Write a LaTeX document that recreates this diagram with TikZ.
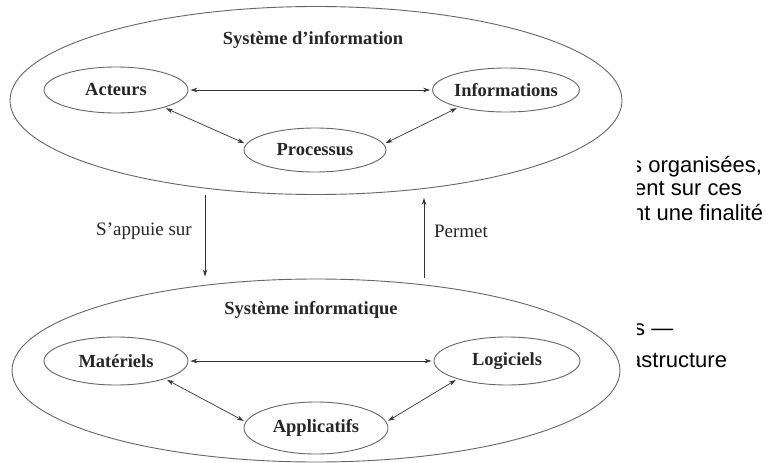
\documentclass[tikz,border=0pt]{standalone}
\usepackage{fontspec}
\setmainfont{Liberation Serif}
\newfontfamily\arialfont{Liberation Sans}
\usetikzlibrary{arrows.meta,shapes.geometric}
\begin{document}
\begin{tikzpicture}[x=1pt,y=-1pt,
  bigell/.style={ellipse, draw=black!60, line width=0.9pt, inner sep=0pt},
  smell/.style={ellipse, draw=black!60, line width=0.9pt, inner sep=0pt,
    font=\fontsize{18.5}{20}\selectfont\bfseries, text=black!85},
  ttl/.style={font=\fontsize{18.5}{20}\selectfont\bfseries, text=black!85, inner sep=0pt},
  lbl/.style={font=\fontsize{19}{21}\selectfont, text=black!85, inner sep=0pt},
  arr/.style={{Stealth[length=7pt,width=4.5pt]}-{Stealth[length=7pt,width=4.5pt]},
    line width=0.7pt, draw=black!80, shorten >=2pt, shorten <=2pt},
  varr/.style={-{Stealth[length=7pt,width=4.5pt]}, line width=0.7pt, draw=black!80},
  frag/.style={font=\arialfont\fontsize{22}{24}\selectfont, anchor=base west, inner sep=0pt, text=black}
]
\useasboundingbox[fill=white] (0,0) rectangle (766,463);

% top system
\node[bigell, minimum width=612pt, minimum height=188pt] (si) at (316,100.5) {};
\node[ttl] (sit) at (313,40) {Système d’information};
\node[smell, minimum width=144pt, minimum height=46pt] (act) at (116,90) {Acteurs};
\node[smell, minimum width=144pt, minimum height=44pt] (info) at (506,90) {Informations};
\node[smell, minimum width=142pt, minimum height=44pt] (proc) at (315,150) {Processus};
\draw[arr] (act) -- (info);
\draw[arr] (act.-20) -- (proc.175);
\draw[arr] (info.-160) -- (proc.5);

% bottom system
\node[bigell, minimum width=608pt, minimum height=183pt] (sinf) at (316,370.5) {};
\node[ttl] (sinft) at (311,310) {Système informatique};
\node[smell, minimum width=144pt, minimum height=48pt] (mat) at (116,361) {Matériels};
\node[smell, minimum width=146pt, minimum height=48pt] (log) at (507,361) {Logiciels};
\node[smell, minimum width=144pt, minimum height=52pt] (app) at (316,428) {Applicatifs};
\draw[arr] (mat) -- (log);
\draw[arr] (mat.-20) -- (app.175);
\draw[arr] (log.-160) -- (app.5);

% links between the two systems
\draw[varr, shorten >=2pt] ([xshift=-111pt]si.south) -- ([xshift=-111pt]sinf.north);
\draw[varr, shorten >=3pt, shorten <=1pt] ([xshift=108pt]sinf.north) -- ([xshift=108pt]si.south);
\node[lbl] (l1) at (144,231) {S’appuie sur};
\node[lbl] (l2) at (461,231) {Permet};

% text fragments behind
\begin{scope}
\clip (637,0) rectangle (766,463);
\node[frag] (f1) at (631,172) {s organisées,};
\node[frag] (f2) at (634,195) {ent sur ces};
\node[frag] (f3) at (632,220) {nt une finalité};
\node[frag] (f4) at (634,335) {s —};
\node[frag] (f5) at (629,367) {astructure};
\end{scope}
\end{tikzpicture}
\end{document}
